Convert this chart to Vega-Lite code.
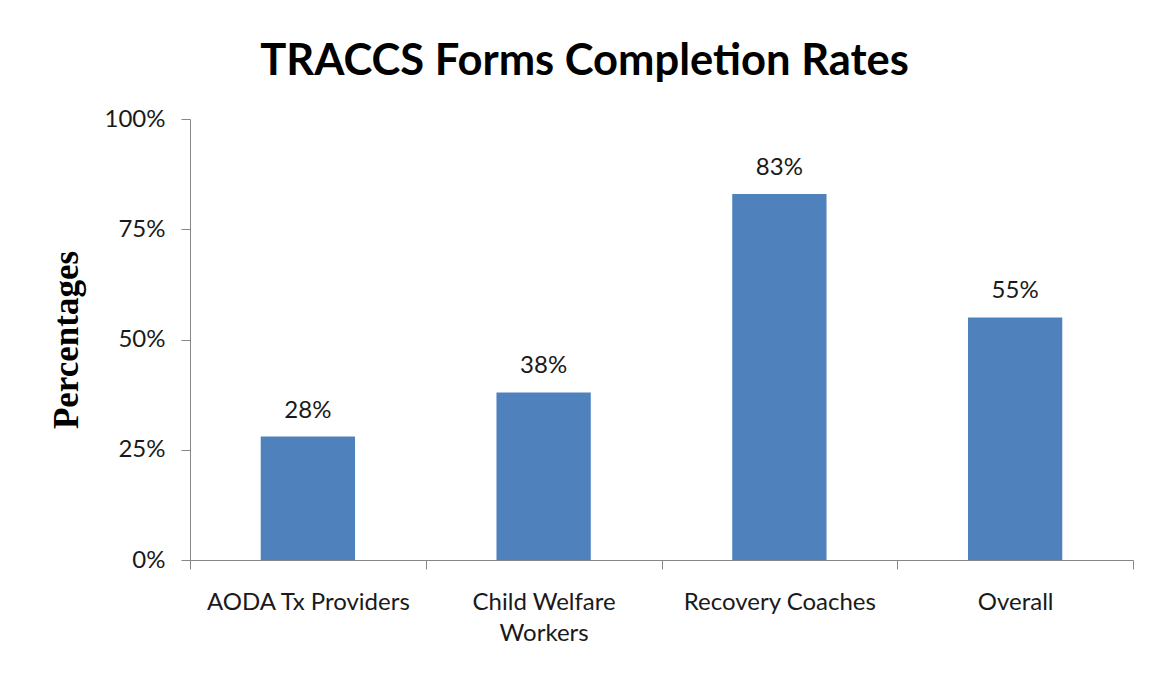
{
  "$schema": "https://vega.github.io/schema/vega-lite/v6.json",
  "autosize": "none",
  "width": 943,
  "height": 441,
  "padding": {"left": 190, "top": 119, "right": 19, "bottom": 115},
  "background": "white",
  "title": {
    "text": "TRACCS Forms Completion Rates",
    "font": "Lato",
    "fontSize": 43.5,
    "fontWeight": "bold",
    "color": "#000000",
    "anchor": "middle",
    "dx": -77,
    "offset": 23
  },
  "data": {
    "values": [
      {"group": "AODA Tx Providers", "rate": 0.28},
      {"group": "Child Welfare Workers", "rate": 0.38},
      {"group": "Recovery Coaches", "rate": 0.83},
      {"group": "Overall", "rate": 0.55}
    ]
  },
  "encoding": {
    "x": {
      "field": "group",
      "type": "nominal",
      "sort": null,
      "scale": {"paddingInner": 0, "paddingOuter": 0},
      "axis": {
        "title": null,
        "labelAngle": 0,
        "tickBand": "extent",
        "tickSize": 9,
        "domainColor": "#868686",
        "tickColor": "#868686",
        "labelFont": "Lato",
        "labelFontSize": 24,
        "labelColor": "#1a1a1a",
        "labelPadding": 33,
        "labelLimit": 0,
        "labelLineHeight": 31,
        "labelBaseline": "middle",
        "labelExpr": "datum.label == 'Child Welfare Workers' ? ['Child Welfare', 'Workers'] : datum.label"
      }
    },
    "y": {
      "field": "rate",
      "type": "quantitative",
      "scale": {"domain": [0, 1], "nice": false},
      "axis": {
        "title": "Percentages",
        "titleFont": "Liberation Serif",
        "titleFontSize": 35,
        "titleFontWeight": "bold",
        "titleColor": "#000000",
        "titlePadding": 20,
        "values": [0, 0.25, 0.5, 0.75, 1],
        "format": ".0%",
        "grid": false,
        "tickSize": 9,
        "domainColor": "#868686",
        "tickColor": "#868686",
        "labelFont": "Lato",
        "labelFontSize": 24,
        "labelColor": "#1a1a1a",
        "labelPadding": 16
      }
    }
  },
  "layer": [
    {
      "mark": {"type": "bar", "color": "#4F81BD", "width": {"band": 0.4}}
    },
    {
      "mark": {"type": "text", "font": "Lato", "fontSize": 24, "color": "#1a1a1a", "baseline": "alphabetic", "dy": -19},
      "encoding": {
        "text": {"field": "rate", "type": "quantitative", "format": ".0%"}
      }
    }
  ],
  "config": {
    "view": {"stroke": null}
  }
}
